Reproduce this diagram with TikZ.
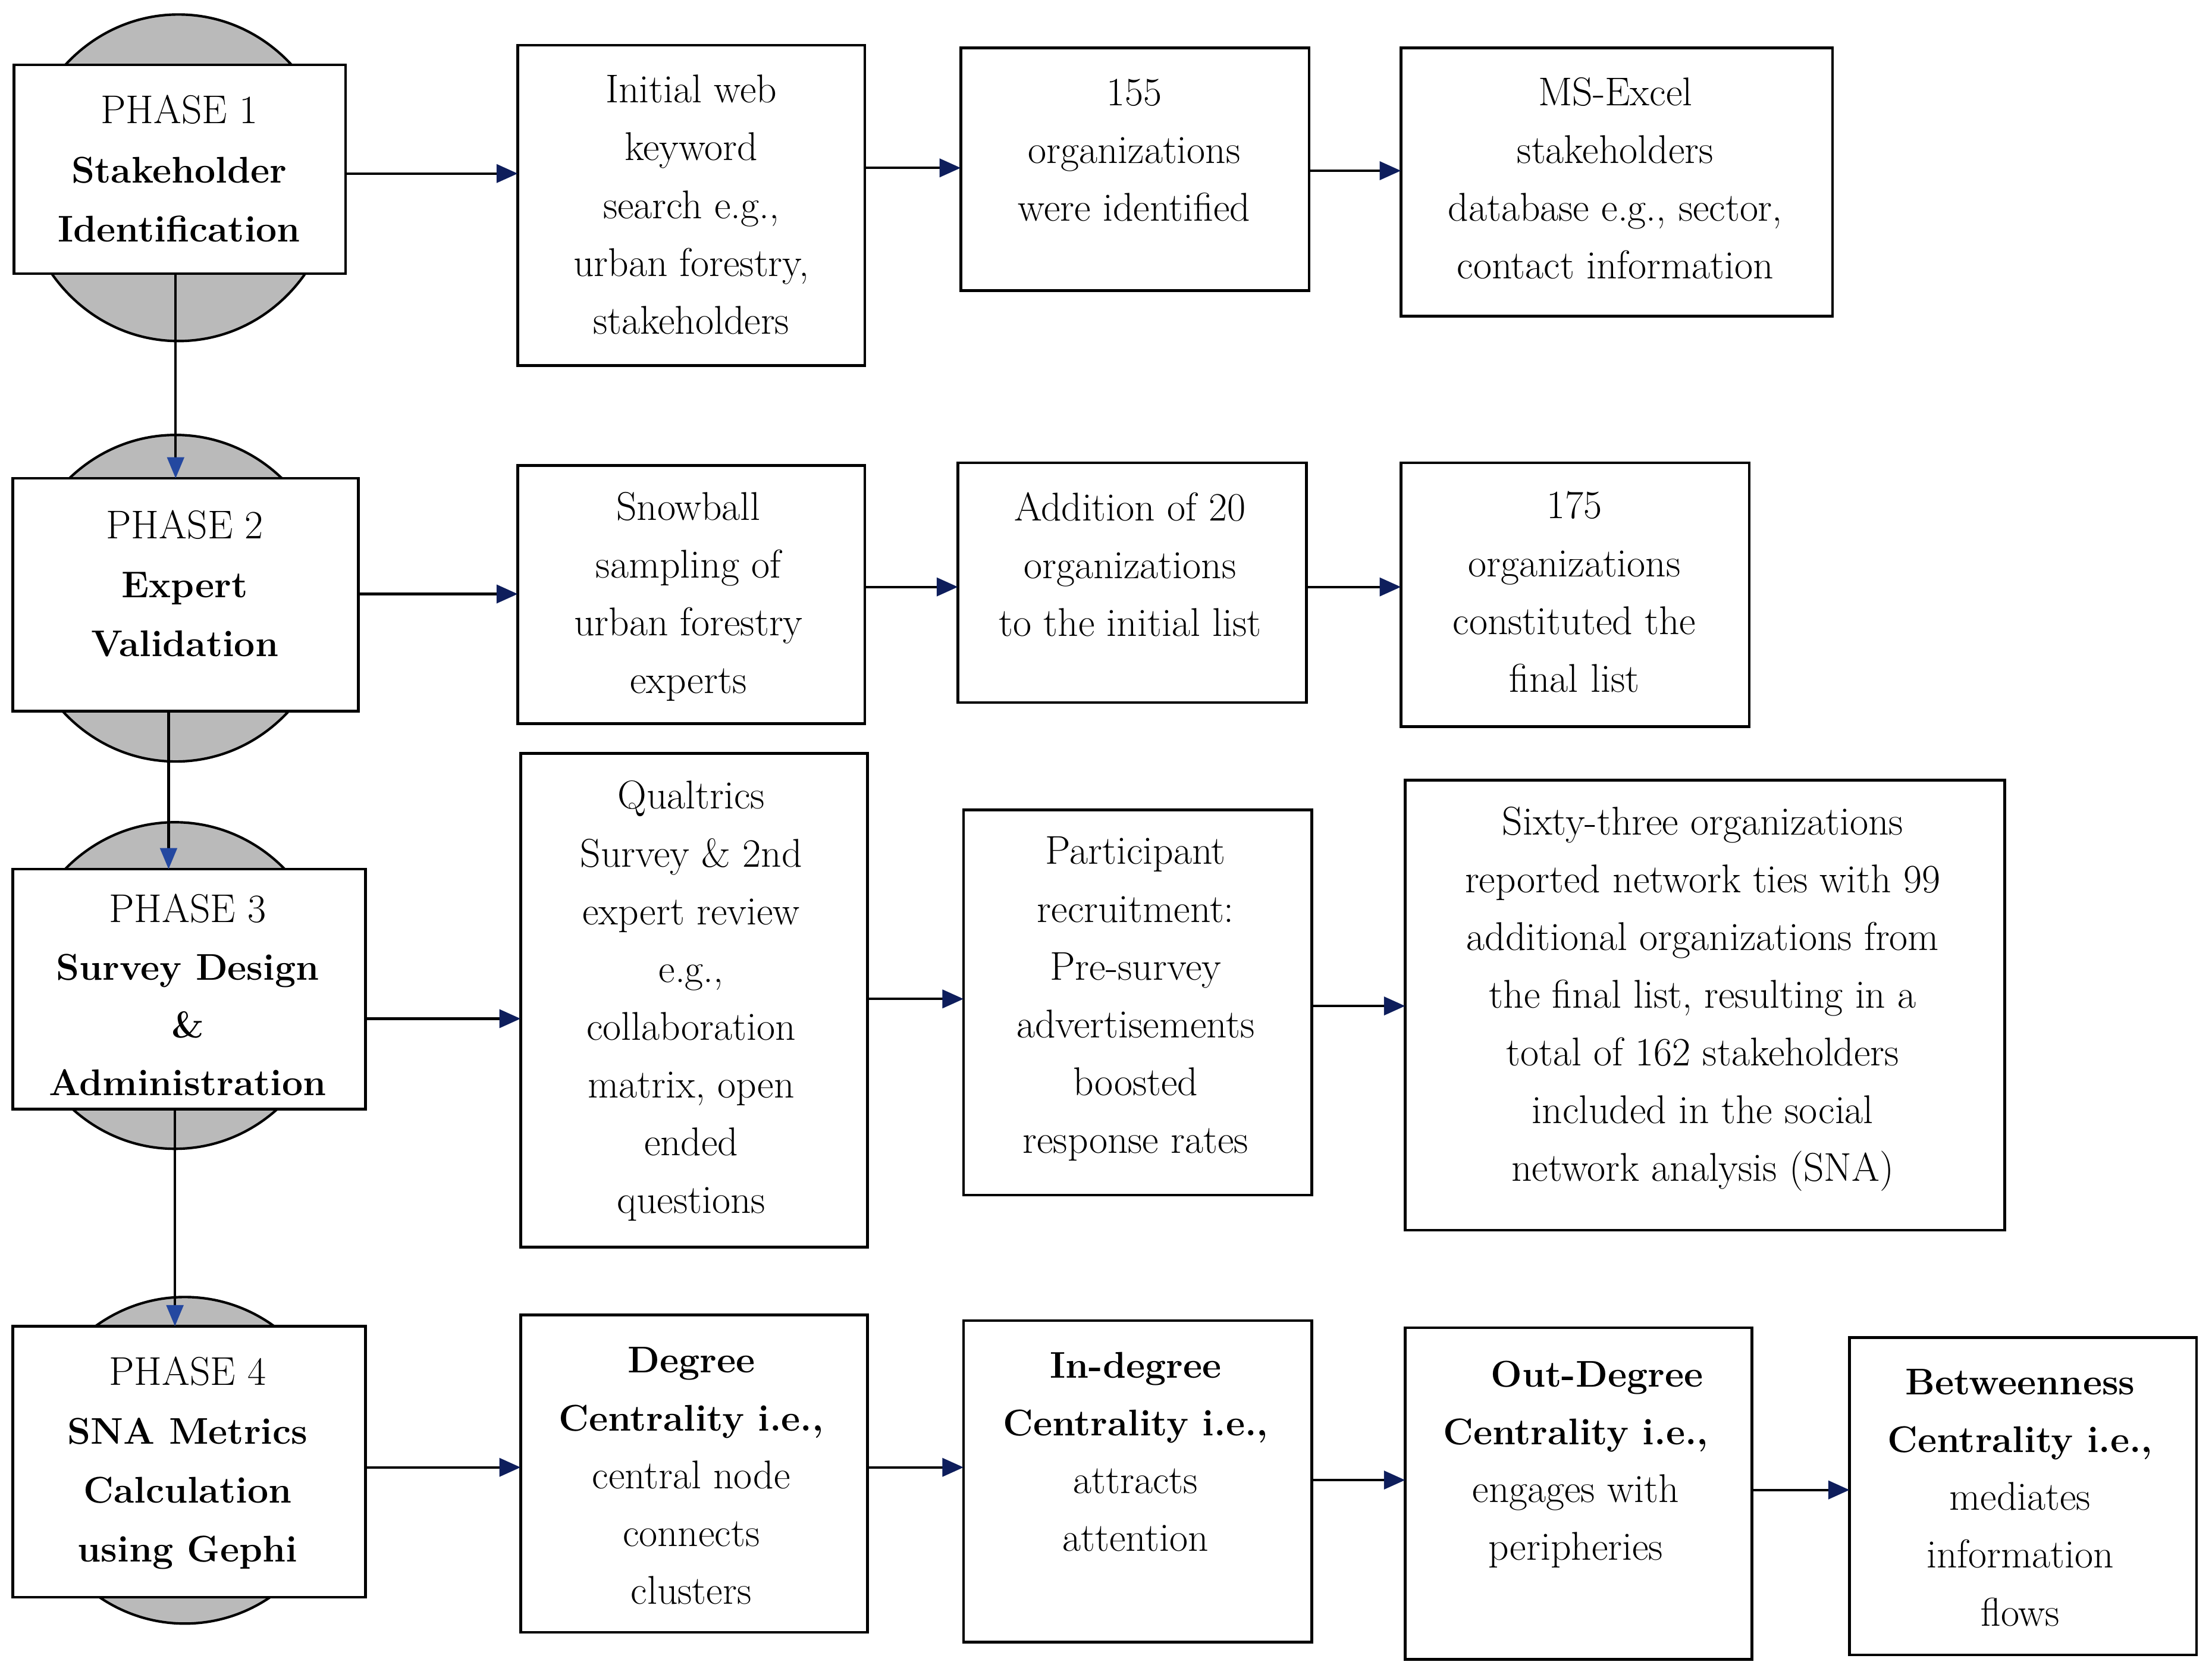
\documentclass[tikz,border=0pt]{standalone}
\usetikzlibrary{arrows.meta,shapes.geometric}
\definecolor{tipnavy}{RGB}{14,30,92}
\definecolor{tipblue}{RGB}{36,72,160}
\definecolor{circgray}{RGB}{186,186,186}
\newcommand{\bb}[1]{{\fontsize{15pt}{23.3pt}\selectfont\bfseries #1}}
\begin{document}
\begin{tikzpicture}[x=0.02cm,y=-0.02cm,
  boxnode/.style={draw=black,line width=1.1pt,fill=white,inner sep=0pt,outer sep=0pt},
  txt/.style={inner sep=0pt,align=center,font=\fontsize{16.2pt}{23.3pt}\selectfont},
  ptxt/.style={inner sep=0pt,align=center,font=\fontsize{16.2pt}{23.8pt}\selectfont},
  phasecirc/.style={ellipse,draw=black,line width=1pt,fill=circgray,inner sep=0pt,minimum width=4.44cm,minimum height=4.63cm},
  harr/.style={line width=1pt,draw=black,-{Triangle[length=0.30cm,width=0.26cm,color=tipnavy]}},
  varr/.style={line width=1pt,draw=black,-{Triangle[length=0.30cm,width=0.24cm,color=tipblue]}}]
\useasboundingbox (0,0) rectangle (1568,1182);

% background circles
\node[phasecirc] (c1) at (126.5,126) {};
\node[phasecirc] (c2) at (124.5,424) {};
\node[phasecirc] (c3) at (124,698.5) {};
\node[phasecirc] (c4) at (131,1035) {};

% phase boxes
\node[boxnode,minimum width=4.70cm,minimum height=2.96cm] (p1) at (127.5,120) {};
\node[boxnode,minimum width=4.90cm,minimum height=3.30cm] (p2) at (131.5,421.5) {};
\node[boxnode,minimum width=5.00cm,minimum height=3.40cm] (p3) at (134,701) {};
\node[boxnode,minimum width=5.00cm,minimum height=3.84cm] (p4) at (134,1036) {};

\node[ptxt] (t1) at (127,119.5) {PHASE 1\\ \bb{Stakeholder}\\ \bb{Identification}};
\node[ptxt] (t2) at (131,413.5) {PHASE 2\\ \bb{Expert}\\ \bb{Validation}};
\node[txt] (t3) at (133,705) {PHASE 3\\ \bb{Survey Design}\\ \bb{\&}\\ \bb{Administration}};
\node[ptxt] (t4) at (133,1037) {PHASE 4\\ \bb{SNA Metrics}\\ \bb{Calculation}\\ \bb{using Gephi}};

% row 1
\node[boxnode,minimum width=4.92cm,minimum height=4.54cm] (b11) at (490,145.5) {};
\node[boxnode,minimum width=4.94cm,minimum height=3.44cm] (b12) at (804.5,120) {};
\node[boxnode,minimum width=6.12cm,minimum height=3.80cm] (b13) at (1146,129) {};
\node[txt] (l11) at (490,145) {Initial web\\ keyword\\ search e.g.,\\ urban forestry,\\ stakeholders};
\node[txt] (l12) at (804,106.5) {155\\ organizations\\ were identified};
\node[txt] (l13) at (1145,126.5) {MS-Excel\\ stakeholders\\ database e.g., sector,\\ contact information};

% row 2
\node[boxnode,minimum width=4.92cm,minimum height=3.66cm] (b21) at (490,421.5) {};
\node[boxnode,minimum width=4.94cm,minimum height=3.40cm] (b22) at (802.5,413) {};
\node[boxnode,minimum width=4.94cm,minimum height=3.74cm] (b23) at (1116.5,421.5) {};
\node[txt] (l21) at (488,423) {Snowball\\ sampling of\\ urban forestry\\ experts};
\node[txt] (l22) at (801,400) {Addition of 20\\ organizations\\ to the initial list};
\node[txt] (l23) at (1116,419.5) {175\\ organizations\\ constituted the\\ final list};

% row 3
\node[boxnode,minimum width=4.92cm,minimum height=7.00cm] (b31) at (492,709) {};
\node[boxnode,minimum width=4.94cm,minimum height=5.46cm] (b32) at (806.5,710.5) {};
\node[boxnode,minimum width=8.50cm,minimum height=6.38cm] (b33) at (1208.5,712.5) {};
\node[txt] (l31) at (490,709.5) {Qualtrics\\ Survey \& 2nd\\ expert review\\ e.g.,\\ collaboration\\ matrix, open\\ ended\\ questions};
\node[txt] (l32) at (805,708) {Participant\\ recruitment:\\ Pre-survey\\ advertisements\\ boosted\\ response rates};
\node[txt] (l33) at (1207,708) {Sixty-three organizations\\ reported network ties with 99\\ additional organizations from\\ the final list, resulting in a\\ total of 162 stakeholders\\ included in the social\\ network analysis (SNA)};

% row 4
\node[boxnode,minimum width=4.92cm,minimum height=4.50cm] (b41) at (492,1044.5) {};
\node[boxnode,minimum width=4.94cm,minimum height=4.56cm] (b42) at (806.5,1050) {};
\node[boxnode,minimum width=4.92cm,minimum height=4.70cm] (b43) at (1119,1058.5) {};
\node[boxnode,minimum width=4.92cm,minimum height=4.50cm] (b44) at (1434,1060.5) {};
\node[txt] (l41) at (490,1046) {\bb{Degree}\\ \bb{Centrality i.e.,}\\ central node\\ connects\\ clusters};
\node[txt] (l42) at (805,1029) {\bb{In-degree}\\ \bb{Centrality i.e.,}\\ attracts\\ attention};
\node[txt] (l43) at (1117,1038) {\hspace*{0.6cm}\bb{Out-Degree}\\ \bb{Centrality i.e.,}\\ engages with\\ peripheries};
\node[txt] (l44) at (1432,1061.5) {\bb{Betweenness}\\ \bb{Centrality i.e.,}\\ mediates\\ information\\ flows};

% arrow heights
\coordinate (h11) at (0,123);
\coordinate (h12) at (0,119);
\coordinate (h13) at (0,121);
\coordinate (h21) at (0,421);
\coordinate (h22) at (0,416);
\coordinate (h23) at (0,416);
\coordinate (h31) at (0,722);
\coordinate (h32) at (0,708);
\coordinate (h33) at (0,713);
\coordinate (h41) at (0,1040);
\coordinate (h42) at (0,1040);
\coordinate (h43) at (0,1049);
\coordinate (h44) at (0,1056);
\coordinate (v1) at (124.5,0);
\coordinate (v2) at (119.5,0);
\coordinate (v3) at (124,0);

% horizontal connectors
\draw[harr] (p1.east |- h11) -- (b11.west |- h11);
\draw[harr] (b11.east |- h12) -- (b12.west |- h12);
\draw[harr] (b12.east |- h13) -- (b13.west |- h13);
\draw[harr] (p2.east |- h21) -- (b21.west |- h21);
\draw[harr] (b21.east |- h22) -- (b22.west |- h22);
\draw[harr] (b22.east |- h23) -- (b23.west |- h23);
\draw[harr] (p3.east |- h31) -- (b31.west |- h31);
\draw[harr] (b31.east |- h32) -- (b32.west |- h32);
\draw[harr] (b32.east |- h33) -- (b33.west |- h33);
\draw[harr] (p4.east |- h41) -- (b41.west |- h41);
\draw[harr] (b41.east |- h42) -- (b42.west |- h42);
\draw[harr] (b42.east |- h43) -- (b43.west |- h43);
\draw[harr] (b43.east |- h44) -- (b44.west |- h44);

% vertical connectors
\draw[varr] (p1.south -| v1) -- (p2.north -| v1);
\draw[varr] (p2.south -| v2) -- (p3.north -| v2);
\draw[varr] (p3.south -| v3) -- (p4.north -| v3);
\end{tikzpicture}
\end{document}
